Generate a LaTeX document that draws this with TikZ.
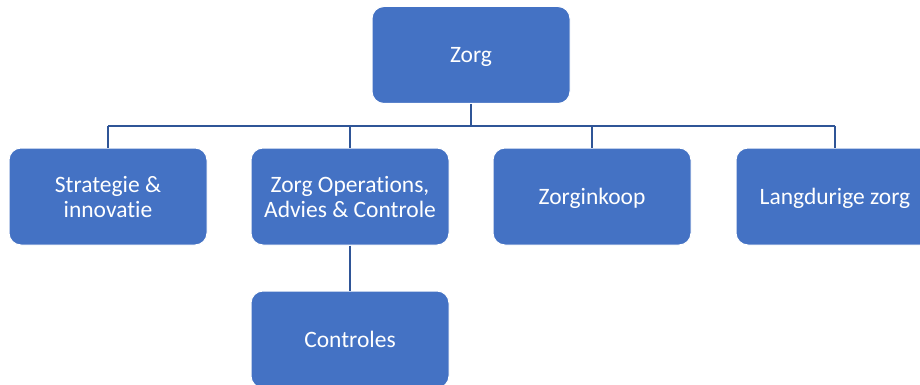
\documentclass[tikz,border=0pt]{standalone}
\usepackage{fontspec}
\setmainfont{Carlito}[RawFeature=-liga]
\definecolor{boxblue}{HTML}{4472C4}
\definecolor{lineblue}{HTML}{2F5597}
\begin{document}
\begin{tikzpicture}[x=1pt,y=-1pt,
  orgbox/.style={draw=white,line width=1pt,fill=boxblue,rounded corners=12pt,
    minimum width=198pt,minimum height=97pt,text=white,align=center,
    font=\fontsize{23.5}{25}\selectfont,inner sep=0pt,text depth=0pt},
  conn/.style={draw=lineblue,line width=2pt}]
\useasboundingbox (0,0) rectangle (920,385);
\begin{scope}
\clip (0,0) rectangle (920,385);
\node[orgbox] (zorg) at (471,55) {Zorg};
\node[orgbox] (strat) at (108,196.5) {Strategie \&\\innovatie};
\node[orgbox] (ops) at (350,196.5) {Zorg Operations,\\Advies \& Controle};
\node[orgbox] (inkoop) at (592,196.5) {Zorginkoop};
\node[orgbox] (lang) at (835,196.5) {Langdurige zorg};
\node[orgbox] (contr) at (350,339.5) {Controles};
\coordinate (bus) at (0,126);
\draw[conn] (zorg.south) -- (zorg.south |- bus);
\draw[conn] (strat.north |- bus) -- (lang.north |- bus);
\draw[conn] (strat.north) -- (strat.north |- bus);
\draw[conn] (ops.north) -- (ops.north |- bus);
\draw[conn] (inkoop.north) -- (inkoop.north |- bus);
\draw[conn] (lang.north) -- (lang.north |- bus);
\draw[conn] (ops.south) -- (contr.north);
\end{scope}
\end{tikzpicture}
\end{document}
